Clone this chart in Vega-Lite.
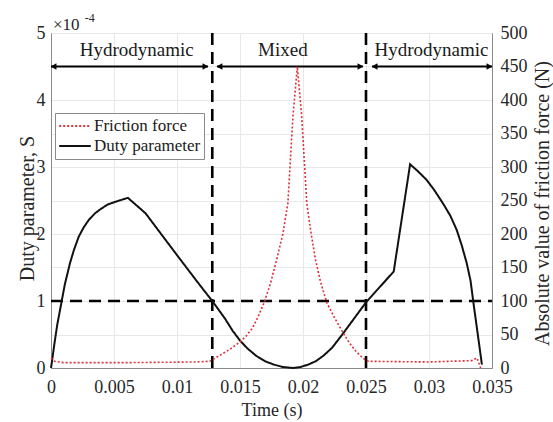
{
  "$schema": "https://vega.github.io/schema/vega-lite/v6.json",
  "width": 441,
  "height": 335,
  "autosize": {"type": "none"},
  "padding": {"left": 51, "top": 33, "right": 61, "bottom": 54},
  "background": "white",
  "config": {
    "font": "Liberation Serif",
    "view": {"stroke": "#8a8a8a", "strokeWidth": 1},
    "axis": {
      "labelFont": "Liberation Serif",
      "titleFont": "Liberation Serif",
      "labelColor": "#262626",
      "titleColor": "#262626",
      "titleFontWeight": "normal",
      "domainColor": "#8a8a8a",
      "ticks": false,
      "gridColor": "#e8e8e8",
      "labelFontSize": 18,
      "labelFlush": false,
      "labelOverlap": false
    }
  },
  "datasets": {
    "duty": [
      {"t": 0, "S": 0, "series": "Duty parameter"},
      {"t": 0.0001, "S": 0.13, "series": "Duty parameter"},
      {"t": 0.0003, "S": 0.4, "series": "Duty parameter"},
      {"t": 0.0005, "S": 0.65, "series": "Duty parameter"},
      {"t": 0.00085, "S": 1.0, "series": "Duty parameter"},
      {"t": 0.0011, "S": 1.25, "series": "Duty parameter"},
      {"t": 0.0015, "S": 1.56, "series": "Duty parameter"},
      {"t": 0.0018, "S": 1.75, "series": "Duty parameter"},
      {"t": 0.0022, "S": 1.96, "series": "Duty parameter"},
      {"t": 0.0026, "S": 2.1, "series": "Duty parameter"},
      {"t": 0.003, "S": 2.21, "series": "Duty parameter"},
      {"t": 0.0035, "S": 2.31, "series": "Duty parameter"},
      {"t": 0.004, "S": 2.38, "series": "Duty parameter"},
      {"t": 0.0045, "S": 2.44, "series": "Duty parameter"},
      {"t": 0.0051, "S": 2.48, "series": "Duty parameter"},
      {"t": 0.0056, "S": 2.51, "series": "Duty parameter"},
      {"t": 0.0061, "S": 2.54, "series": "Duty parameter"},
      {"t": 0.0075, "S": 2.31, "series": "Duty parameter"},
      {"t": 0.0101, "S": 1.66, "series": "Duty parameter"},
      {"t": 0.0118, "S": 1.24, "series": "Duty parameter"},
      {"t": 0.0128, "S": 1.0, "series": "Duty parameter"},
      {"t": 0.0138, "S": 0.74, "series": "Duty parameter"},
      {"t": 0.0144, "S": 0.56, "series": "Duty parameter"},
      {"t": 0.015, "S": 0.41, "series": "Duty parameter"},
      {"t": 0.0156, "S": 0.29, "series": "Duty parameter"},
      {"t": 0.0163, "S": 0.18, "series": "Duty parameter"},
      {"t": 0.017, "S": 0.1, "series": "Duty parameter"},
      {"t": 0.0177, "S": 0.05, "series": "Duty parameter"},
      {"t": 0.0184, "S": 0.015, "series": "Duty parameter"},
      {"t": 0.0192, "S": 0.0, "series": "Duty parameter"},
      {"t": 0.0198, "S": 0.015, "series": "Duty parameter"},
      {"t": 0.0204, "S": 0.05, "series": "Duty parameter"},
      {"t": 0.021, "S": 0.1, "series": "Duty parameter"},
      {"t": 0.0216, "S": 0.18, "series": "Duty parameter"},
      {"t": 0.0223, "S": 0.3, "series": "Duty parameter"},
      {"t": 0.0232, "S": 0.52, "series": "Duty parameter"},
      {"t": 0.0241, "S": 0.75, "series": "Duty parameter"},
      {"t": 0.025, "S": 0.98, "series": "Duty parameter"},
      {"t": 0.0261, "S": 1.21, "series": "Duty parameter"},
      {"t": 0.0272, "S": 1.44, "series": "Duty parameter"},
      {"t": 0.0285, "S": 3.04, "series": "Duty parameter"},
      {"t": 0.0291, "S": 2.94, "series": "Duty parameter"},
      {"t": 0.0298, "S": 2.81, "series": "Duty parameter"},
      {"t": 0.0304, "S": 2.66, "series": "Duty parameter"},
      {"t": 0.0311, "S": 2.46, "series": "Duty parameter"},
      {"t": 0.0317, "S": 2.27, "series": "Duty parameter"},
      {"t": 0.0322, "S": 2.06, "series": "Duty parameter"},
      {"t": 0.0326, "S": 1.83, "series": "Duty parameter"},
      {"t": 0.033, "S": 1.56, "series": "Duty parameter"},
      {"t": 0.0333, "S": 1.3, "series": "Duty parameter"},
      {"t": 0.0335, "S": 1.01, "series": "Duty parameter"},
      {"t": 0.0338, "S": 0.6, "series": "Duty parameter"},
      {"t": 0.0342, "S": 0.05, "series": "Duty parameter"}
    ],
    "friction": [
      {"t": 0, "F": 15, "series": "Friction force"},
      {"t": 0.0003, "F": 10, "series": "Friction force"},
      {"t": 0.001, "F": 8, "series": "Friction force"},
      {"t": 0.006, "F": 8, "series": "Friction force"},
      {"t": 0.0115, "F": 9, "series": "Friction force"},
      {"t": 0.0126, "F": 10, "series": "Friction force"},
      {"t": 0.0135, "F": 20, "series": "Friction force"},
      {"t": 0.0142, "F": 28, "series": "Friction force"},
      {"t": 0.015, "F": 39, "series": "Friction force"},
      {"t": 0.0155, "F": 48, "series": "Friction force"},
      {"t": 0.016, "F": 60, "series": "Friction force"},
      {"t": 0.0164, "F": 75, "series": "Friction force"},
      {"t": 0.0169, "F": 97, "series": "Friction force"},
      {"t": 0.0174, "F": 125, "series": "Friction force"},
      {"t": 0.0179, "F": 161, "series": "Friction force"},
      {"t": 0.0184, "F": 200, "series": "Friction force"},
      {"t": 0.0188, "F": 246, "series": "Friction force"},
      {"t": 0.0192, "F": 375, "series": "Friction force"},
      {"t": 0.01955, "F": 450, "series": "Friction force"},
      {"t": 0.0199, "F": 375, "series": "Friction force"},
      {"t": 0.0203, "F": 246, "series": "Friction force"},
      {"t": 0.02065, "F": 200, "series": "Friction force"},
      {"t": 0.021, "F": 161, "series": "Friction force"},
      {"t": 0.0214, "F": 128, "series": "Friction force"},
      {"t": 0.0219, "F": 97, "series": "Friction force"},
      {"t": 0.0225, "F": 75, "series": "Friction force"},
      {"t": 0.0232, "F": 52, "series": "Friction force"},
      {"t": 0.0237, "F": 37, "series": "Friction force"},
      {"t": 0.0242, "F": 25, "series": "Friction force"},
      {"t": 0.0248, "F": 14, "series": "Friction force"},
      {"t": 0.0252, "F": 10, "series": "Friction force"},
      {"t": 0.03, "F": 9, "series": "Friction force"},
      {"t": 0.0334, "F": 11, "series": "Friction force"},
      {"t": 0.0338, "F": 15, "series": "Friction force"},
      {"t": 0.0341, "F": 0, "series": "Friction force"}
    ],
    "vrules": [
      {"t": 0.0128, "S": 0, "S2": 5},
      {"t": 0.025, "S": 0, "S2": 5}
    ],
    "hrule": [
      {"t": 0, "t2": 0.035, "S": 1}
    ],
    "arrows": [
      {"t": 0, "t2": 0.01246, "S": 4.5},
      {"t": 0.01317, "t2": 0.02476, "S": 4.5},
      {"t": 0.02548, "t2": 0.035, "S": 4.5}
    ],
    "headsLeft": [
      {"t": 0.0002, "S": 4.5},
      {"t": 0.01337, "S": 4.5},
      {"t": 0.02568, "S": 4.5}
    ],
    "headsRight": [
      {"t": 0.01226, "S": 4.5},
      {"t": 0.02456, "S": 4.5},
      {"t": 0.0348, "S": 4.5}
    ],
    "regions": [
      {"t": 0.0068, "S": 4.75, "label": "Hydrodynamic"},
      {"t": 0.0184, "S": 4.75, "label": "Mixed"},
      {"t": 0.0302, "S": 4.75, "label": "Hydrodynamic"}
    ],
    "expBase": [{"t": 0.00016, "S": 5.12, "label": "×10"}],
    "expSup": [{"t": 0.00268, "S": 5.22, "label": "-4"}]
  },
  "encoding": {
    "x": {
      "field": "t",
      "type": "quantitative",
      "scale": {"domain": [0, 0.035], "nice": false, "zero": false},
      "axis": {
        "values": [0, 0.005, 0.01, 0.015, 0.02, 0.025, 0.03, 0.035],
        "format": "~g",
        "grid": true,
        "title": "Time (s)",
        "titleFontSize": 18,
        "titleX": 220.5,
        "titleY": 42,
        "titleBaseline": "middle",
        "titleAlign": "center",
        "labelPadding": 10
      }
    }
  },
  "layer": [
    {
      "encoding": {
        "y": {
          "field": "S",
          "type": "quantitative",
          "scale": {"domain": [0, 5], "nice": false, "zero": false},
          "axis": {
            "orient": "left",
            "values": [0, 1, 2, 3, 4, 5],
            "grid": false,
            "title": "Duty parameter, S",
            "titleFontSize": 20,
            "titleAngle": 270,
            "titleX": -24,
            "titleY": 175,
            "titleBaseline": "middle",
            "titleAlign": "center",
            "labelPadding": 6
          }
        }
      },
      "layer": [
        {
          "data": {"name": "vrules"},
          "mark": {"type": "rule", "color": "black", "strokeWidth": 2.6, "strokeDash": [12, 7]},
          "encoding": {"y2": {"field": "S2"}}
        },
        {
          "data": {"name": "hrule"},
          "mark": {"type": "rule", "color": "black", "strokeWidth": 2.6, "strokeDash": [12, 7]},
          "encoding": {"x2": {"field": "t2"}}
        },
        {
          "data": {"name": "arrows"},
          "mark": {"type": "rule", "color": "black", "strokeWidth": 2},
          "encoding": {"x2": {"field": "t2"}}
        },
        {
          "data": {"name": "headsLeft"},
          "mark": {"type": "point", "shape": "triangle-left", "filled": true, "color": "black", "size": 45, "opacity": 1},
          "encoding": {}
        },
        {
          "data": {"name": "headsRight"},
          "mark": {"type": "point", "shape": "triangle-right", "filled": true, "color": "black", "size": 45, "opacity": 1},
          "encoding": {}
        },
        {
          "data": {"name": "regions"},
          "mark": {"type": "text", "font": "Liberation Serif", "fontSize": 19, "color": "#1a1a1a", "align": "center", "baseline": "middle"},
          "encoding": {"text": {"field": "label"}}
        },
        {
          "data": {"name": "expBase"},
          "mark": {"type": "text", "font": "Liberation Serif", "fontSize": 17, "color": "#262626", "align": "left", "baseline": "middle"},
          "encoding": {"text": {"field": "label"}}
        },
        {
          "data": {"name": "expSup"},
          "mark": {"type": "text", "font": "Liberation Serif", "fontSize": 12, "color": "#262626", "align": "left", "baseline": "middle"},
          "encoding": {"text": {"field": "label"}}
        },
        {
          "data": {"name": "duty"},
          "mark": {"type": "line", "strokeWidth": 2},
          "encoding": {
            "color": {
              "field": "series",
              "type": "nominal",
              "scale": {"domain": ["Friction force", "Duty parameter"], "range": ["#e0303a", "#111111"]},
              "legend": {
                "orient": "none",
                "legendX": 4,
                "legendY": 80,
                "title": null,
                "labelFont": "Liberation Serif",
                "labelFontSize": 17,
                "labelColor": "#1a1a1a",
                "symbolType": "M-1,0L1,0",
                "symbolSize": 1000,
                "symbolStrokeWidth": 2,
                "clipHeight": 20,
                "rowPadding": 0,
                "labelOffset": 2,
                "padding": 3,
                "strokeColor": "#8a8a8a",
                "fillColor": "white"
              }
            },
            "strokeDash": {
              "field": "series",
              "type": "nominal",
              "scale": {"domain": ["Friction force", "Duty parameter"], "range": [[2, 2], [1, 0]]},
              "legend": {
                "orient": "none",
                "legendX": 4,
                "legendY": 80,
                "title": null,
                "labelFont": "Liberation Serif",
                "labelFontSize": 17,
                "labelColor": "#1a1a1a",
                "symbolType": "M-1,0L1,0",
                "symbolSize": 1000,
                "symbolStrokeWidth": 2,
                "clipHeight": 20,
                "rowPadding": 0,
                "labelOffset": 2,
                "padding": 3,
                "strokeColor": "#8a8a8a",
                "fillColor": "white"
              }
            }
          }
        }
      ]
    },
    {
      "data": {"name": "friction"},
      "mark": {"type": "line", "strokeWidth": 1.6},
      "encoding": {
        "y": {
          "field": "F",
          "type": "quantitative",
          "scale": {"domain": [0, 500], "nice": false, "zero": false},
          "axis": {
            "orient": "right",
            "values": [0, 50, 100, 150, 200, 250, 300, 350, 400, 450, 500],
            "grid": true,
            "title": "Absolute value of friction force (N)",
            "titleFontSize": 20,
            "titleAngle": 270,
            "titleX": 50,
            "titleY": 170,
            "titleBaseline": "middle",
            "titleAlign": "center",
            "labelPadding": 8
          }
        },
        "color": {
          "field": "series",
          "type": "nominal",
          "scale": {"domain": ["Friction force", "Duty parameter"], "range": ["#e0303a", "#111111"]},
          "legend": {
            "orient": "none",
            "legendX": 4,
            "legendY": 80,
            "title": null,
            "labelFont": "Liberation Serif",
            "labelFontSize": 17,
            "labelColor": "#1a1a1a",
            "symbolType": "M-1,0L1,0",
            "symbolSize": 1000,
            "symbolStrokeWidth": 2,
            "clipHeight": 20,
            "rowPadding": 0,
            "labelOffset": 2,
            "padding": 3,
            "strokeColor": "#8a8a8a",
            "fillColor": "white"
          }
        },
        "strokeDash": {
          "field": "series",
          "type": "nominal",
          "scale": {"domain": ["Friction force", "Duty parameter"], "range": [[2, 2], [1, 0]]},
          "legend": {
            "orient": "none",
            "legendX": 4,
            "legendY": 80,
            "title": null,
            "labelFont": "Liberation Serif",
            "labelFontSize": 17,
            "labelColor": "#1a1a1a",
            "symbolType": "M-1,0L1,0",
            "symbolSize": 1000,
            "symbolStrokeWidth": 2,
            "clipHeight": 20,
            "rowPadding": 0,
            "labelOffset": 2,
            "padding": 3,
            "strokeColor": "#8a8a8a",
            "fillColor": "white"
          }
        }
      }
    }
  ],
  "resolve": {"scale": {"y": "independent"}}
}
